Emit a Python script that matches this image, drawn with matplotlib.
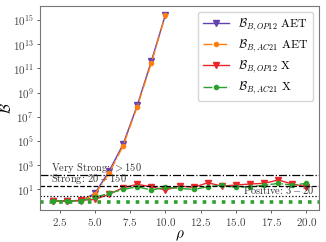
import matplotlib
matplotlib.use("Agg")
import matplotlib.pyplot as plt

plt.rcParams['font.family'] = 'serif'
plt.rcParams['font.serif'] = ['cmr10', 'DejaVu Serif']
plt.rcParams['mathtext.fontset'] = 'cm'
plt.rcParams['axes.formatter.use_mathtext'] = True

rho_aet = [2, 3, 4, 5, 6, 7, 8, 9, 10]
op12_aet = [1.12, 1.12, 1.17, 4.8, 316, 5.6e4, 8.9e7, 4.0e11, 2.8e15]
ac21_aet = [1.12, 1.12, 1.17, 4.0, 214, 4.0e4, 7.1e7, 2.8e11, 2.5e15]

rho_x = [2, 3, 4, 5, 6, 7, 8, 9, 10, 11, 12, 13, 14, 15, 16, 17, 18, 19, 20]
op12_x = [1.17, 1.12, 1.26, 1.51, 3.98, 13.8, 26.3, 16.6, 8.9, 19.1, 14.8,
          35.5, 19.1, 22.9, 28.2, 31.6, 60.3, 28.2, 16.6]
ac21_x = [1.12, 1.12, 1.17, 2.24, 4.79, 10.0, 16.6, 8.9, 14.8, 12.3, 10.0,
          16.6, 21.9, 14.8, 16.6, 21.9, 31.6, 22.9, 31.6]

labels = [r'$\mathcal{B}_{B,OP12}$ AET', r'$\mathcal{B}_{B,AC21}$ AET',
          r'$\mathcal{B}_{B,OP12}$ X', r'$\mathcal{B}_{B,AC21}$ X']
thresholds = [150, 20, 3]
thr_texts = [r'Very Strong: $>150$', r'Strong: $20-150$', r'Positive: $3-20$']

fig = plt.figure(figsize=(3.26, 2.42), dpi=100)
ax = fig.add_axes([0.1227, 0.1322, 0.856, 0.843])

ax.plot(rho_aet, op12_aet, '-', marker='v', color='#6441b0', lw=1.0, ms=5, label=labels[0])
ax.plot(rho_aet, ac21_aet, '-.', marker='o', color='#ff7f0e', lw=1.0, ms=3, label=labels[1])
ax.plot(rho_x, op12_x, '-', marker='v', color='#e8262a', lw=1.0, ms=5, label=labels[2])
ax.plot(rho_x, ac21_x, '-.', marker='o', color='#2ca02c', lw=1.0, ms=3, label=labels[3])

ax.axhline(thresholds[0], color='k', ls='-.', lw=0.9)
ax.axhline(thresholds[1], color='k', ls='--', lw=0.9)
ax.axhline(thresholds[2], color='k', ls=':', lw=0.9)
ax.axhline(1, color='#2ca02c', ls=':', lw=2.6)

ax.text(1.9, thresholds[0], thr_texts[0], fontsize=7.5, color='#333333', va='bottom', ha='left')
ax.text(1.9, thresholds[1], thr_texts[1], fontsize=7.5, color='#333333', va='bottom', ha='left')
ax.text(20.55, thresholds[2], thr_texts[2], fontsize=7.5, color='#333333', va='bottom', ha='right')

ax.set_yscale('log')
ax.set_xlim(1.1, 20.9)
ax.set_ylim(10**-0.7, 10**16.16)
ax.set_xlabel(r'$\rho$', fontsize=11, labelpad=0)
ax.set_ylabel(r'$\mathcal{B}$', fontsize=10.5, labelpad=-1)
ax.tick_params(labelsize=8, colors='#444444', length=2.5, width=0.6, pad=2)
ax.tick_params(which='minor', length=0)
for s in ax.spines.values():
    s.set_color('#777777')
    s.set_linewidth(0.8)

leg = ax.legend(loc='upper right', fontsize=8.5, frameon=True, borderaxespad=0.5,
                handlelength=2.2, labelspacing=0.4)
leg.get_frame().set_edgecolor('#cccccc')

fig.savefig('out.png', dpi=100)
